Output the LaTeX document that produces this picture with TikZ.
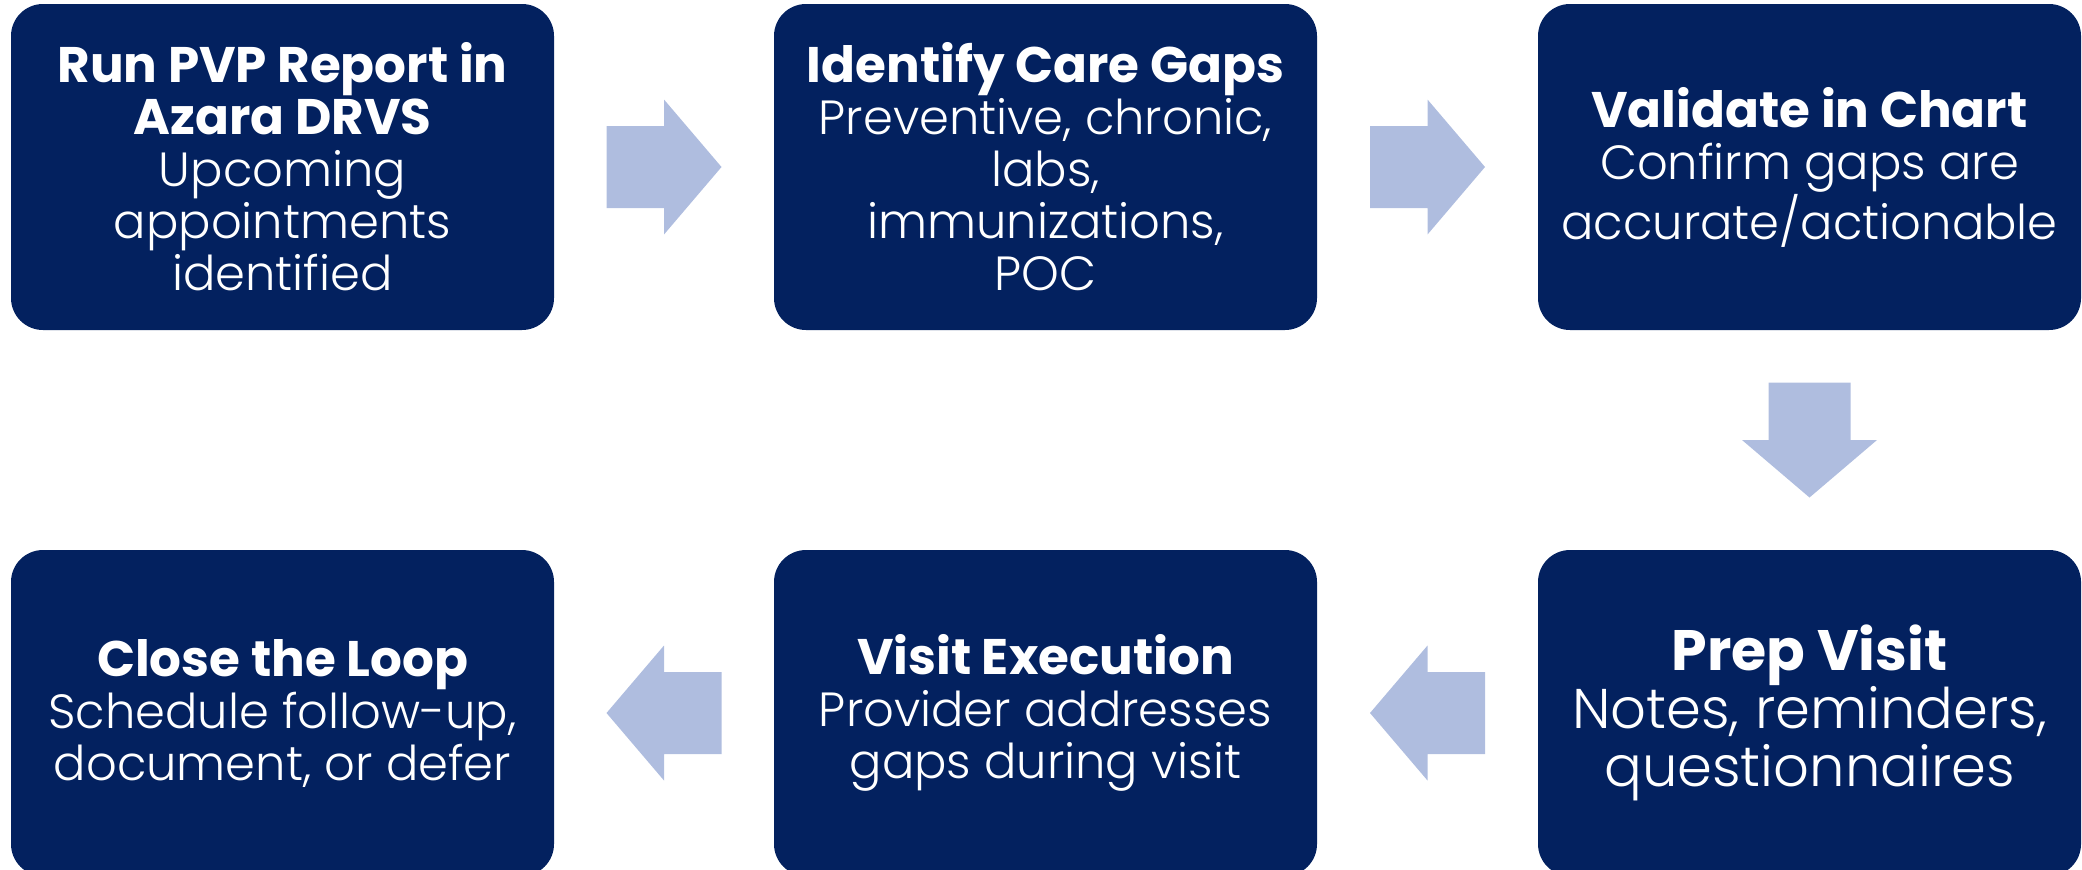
\documentclass[tikz,border=0pt]{standalone}
\usepackage{fontspec}
\usetikzlibrary{calc}
\setmainfont{Poppins}
\newfontfamily\lightfont{Poppins Light}
\definecolor{navy}{HTML}{03215F}
\definecolor{flow}{HTML}{AFBDDF}

% block arrow centred on #1, turned by #2 degrees
\newcommand\flowarrow[2]{%
  \fill[flow, shift={(#1)}, rotate=#2]
    (-57.5,-41) -- (0,-41) -- (0,-67.5) -- (57.5,0) -- (0,67.5) -- (0,41) -- (-57.5,41) -- cycle;}

% title and description lines
\newcommand\ttl[1]{{\fontsize{25}{26}\selectfont\bfseries #1}}
\newcommand\dsc[1]{{\fontsize{24}{26}\selectfont\lightfont #1}}
\newcommand\bttl[1]{{\fontsize{28.5}{29}\selectfont\bfseries #1}}
\newcommand\bdsc[1]{{\fontsize{28}{29}\selectfont\lightfont #1}}

\begin{document}
\begin{tikzpicture}[x=0.5pt, y=-0.5pt,
  stepbox/.style={fill=navy, rounded corners=16pt, minimum width=271.5pt,
    minimum height=163pt, text=white, align=center, inner sep=0pt,
    font=\fontsize{24}{26}\selectfont},
  bigbox/.style={stepbox, font=\fontsize{28}{29}\selectfont}]
\useasboundingbox (0,0) rectangle (2082,869);
\clip (0,0) rectangle (2082,869);

\node[stepbox] (run) at (282.5,167)
  {\ttl{Run PVP Report in}\\\ttl{Azara DRVS}\\\dsc{Upcoming}\\\dsc{appointments}\\\dsc{identified}};
\node[stepbox] (gaps) at (1045.5,167)
  {\ttl{Identify Care Gaps}\\\dsc{Preventive, chronic,}\\\dsc{labs,}\\\dsc{immunizations,}\\\dsc{POC}};
\node[stepbox] (validate) at (1809.5,167)
  {\ttl{Validate in Chart}\\\dsc{Confirm gaps are}\\\dsc{accurate/actionable}};
\node[bigbox] (prep) at (1809.5,713)
  {\bttl{Prep Visit}\\\bdsc{Notes, reminders,}\\\bdsc{questionnaires}};
\node[stepbox] (visit) at (1045.5,713)
  {\ttl{Visit Execution}\\\dsc{Provider addresses}\\\dsc{gaps during visit}};
\node[stepbox] (close) at (282.5,713)
  {\ttl{Close the Loop}\\\dsc{Schedule follow-up,}\\\dsc{document, or defer}};

\coordinate (a1) at ($(run.east)!0.5!(gaps.west)$);
\coordinate (a2) at ($(gaps.east)!0.5!(validate.west)$);
\coordinate (a3) at ($(validate.south)!0.5!(prep.north)$);
\coordinate (a4) at ($(prep.west)!0.5!(visit.east)$);
\coordinate (a5) at ($(visit.west)!0.5!(close.east)$);

\flowarrow{a1}{0}
\flowarrow{a2}{0}
\flowarrow{a3}{-90}
\flowarrow{a4}{180}
\flowarrow{a5}{180}
\end{tikzpicture}
\end{document}
